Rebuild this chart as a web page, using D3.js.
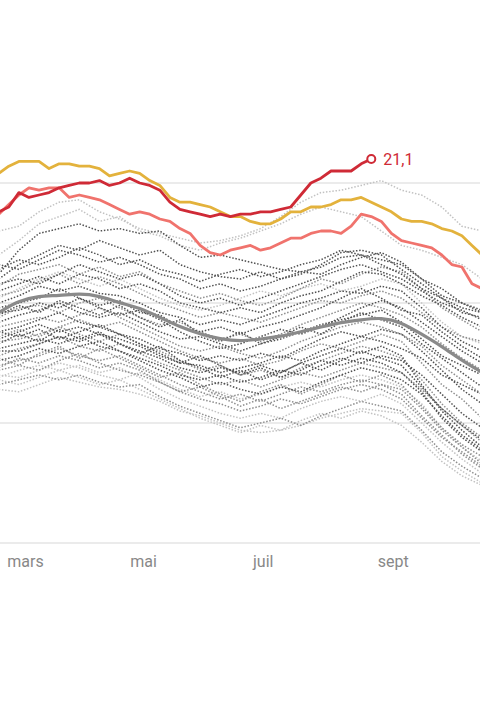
<!DOCTYPE html>
<html lang="fr">
<head>
<meta charset="utf-8">
<script src="https://cdn.jsdelivr.net/npm/d3@7"></script>
<style>
    html, body { margin: 0; padding: 0; background: #fff; }
    svg { display: block; }
</style>
</head>
<body>
<svg id="chart" width="480" height="720"></svg>
<script>
// Température moyenne de surface des océans (°C)
const mois = ['janv', 'févr', 'mars', 'avr', 'mai', 'juin', 'juil', 'août', 'sept', 'oct', 'nov', 'déc'];
const grille = [19.5, 20, 20.5, 21];

// Points tous les 5 jours à partir du 24 février
const valeurs2023 = [20.88, 20.90, 20.96, 20.94, 20.95, 20.96, 20.98, 20.99, 21.00, 21.00,
    21.01, 20.99, 21.00, 21.02, 21.00, 20.99, 20.97, 20.92, 20.89, 20.88,
    20.87, 20.86, 20.87, 20.86, 20.87, 20.87, 20.88, 20.88, 20.89, 20.90,
    20.95, 21.00, 21.02, 21.05, 21.05, 21.05, 21.08, 21.10];
const valeurs2016 = [21.04, 21.07, 21.09, 21.09, 21.09, 21.06, 21.08, 21.08, 21.07, 21.07,
    21.06, 21.03, 21.04, 21.05, 21.04, 21.01, 20.99, 20.94, 20.92, 20.92,
    20.91, 20.90, 20.88, 20.86, 20.86, 20.84, 20.83, 20.83, 20.85, 20.88,
    20.88, 20.90, 20.90, 20.91, 20.93, 20.93, 20.94, 20.92, 20.90, 20.88,
    20.85, 20.84, 20.84, 20.83, 20.81, 20.80, 20.78, 20.74, 20.70, 20.67, 20.65];
const valeurs2020 = [20.87, 20.91, 20.95, 20.98, 20.97, 20.98, 20.98, 20.94, 20.95, 20.94,
    20.93, 20.91, 20.89, 20.87, 20.88, 20.87, 20.85, 20.84, 20.81, 20.79,
    20.74, 20.71, 20.70, 20.72, 20.73, 20.74, 20.72, 20.73, 20.75, 20.77,
    20.77, 20.79, 20.80, 20.80, 20.79, 20.82, 20.87, 20.86, 20.84, 20.79,
    20.76, 20.75, 20.74, 20.73, 20.70, 20.66, 20.65, 20.58, 20.56, 20.56, 20.55];

// Points tous les 10 jours à partir du 24 février
const moyenne = [20.46, 20.51, 20.53, 20.53, 20.54, 20.53, 20.50, 20.48, 20.44, 20.40,
    20.37, 20.35, 20.34, 20.35, 20.36, 20.38, 20.40, 20.42, 20.43, 20.44,
    20.42, 20.37, 20.32, 20.26, 20.21, 20.17];

const annees = [2019, 2017, 2021, 2022, 2018, 2015, 2014, 2010, 2013, 2012,
    2005, 2009, 2006, 2011, 2003, 2007, 1998, 2002, 2001, 2004,
    1997, 2000, 1999, 1995, 1991, 1987, 1990, 1988, 1983, 1989, 1985,
    2008, 1996, 1994, 1993, 1992, 1986];
const anneesClaires = [2019, 2017, 2005, 1990, 1983, 1985, 1986];
const anneesGrises = [2010, 2013, 2003, 2001, 1997, 1987, 1998, 1995, 1988, 1989, 1994, 1992];

const autresAnnees = [
    [20.80, 20.82, 20.88, 20.92, 20.93, 20.88, 20.85, 20.81, 20.79, 20.77, 20.75, 20.76, 20.78, 20.81, 20.86, 20.92, 20.96, 20.97, 20.99, 21.01, 20.97, 20.95, 20.90, 20.82, 20.80, 20.77],
    [20.70, 20.76, 20.83, 20.86, 20.89, 20.84, 20.86, 20.80, 20.78, 20.74, 20.72, 20.75, 20.77, 20.80, 20.83, 20.87, 20.90, 20.88, 20.86, 20.80, 20.74, 20.72, 20.69, 20.66, 20.60, 20.56],
    [20.64, 20.68, 20.66, 20.69, 20.73, 20.70, 20.66, 20.68, 20.64, 20.62, 20.59, 20.62, 20.64, 20.61, 20.63, 20.66, 20.68, 20.72, 20.70, 20.66, 20.62, 20.56, 20.52, 20.48, 20.46, 20.43],
    [20.62, 20.72, 20.79, 20.81, 20.83, 20.80, 20.81, 20.79, 20.80, 20.74, 20.69, 20.70, 20.68, 20.66, 20.64, 20.63, 20.65, 20.69, 20.70, 20.68, 20.66, 20.60, 20.53, 20.50, 20.47, 20.44],
    [20.60, 20.66, 20.70, 20.74, 20.72, 20.76, 20.73, 20.70, 20.72, 20.66, 20.63, 20.61, 20.60, 20.63, 20.60, 20.62, 20.66, 20.71, 20.72, 20.70, 20.64, 20.58, 20.52, 20.46, 20.44, 20.40],
    [20.66, 20.64, 20.68, 20.72, 20.70, 20.67, 20.69, 20.66, 20.62, 20.60, 20.56, 20.58, 20.55, 20.57, 20.60, 20.63, 20.62, 20.66, 20.69, 20.71, 20.67, 20.60, 20.56, 20.50, 20.46, 20.42],
    [20.58, 20.60, 20.58, 20.62, 20.66, 20.63, 20.60, 20.62, 20.58, 20.53, 20.50, 20.52, 20.49, 20.52, 20.55, 20.58, 20.61, 20.64, 20.66, 20.63, 20.60, 20.55, 20.50, 20.47, 20.43, 20.40],
    [20.57, 20.62, 20.64, 20.66, 20.62, 20.65, 20.61, 20.63, 20.58, 20.55, 20.52, 20.54, 20.51, 20.49, 20.52, 20.56, 20.60, 20.58, 20.62, 20.65, 20.63, 20.56, 20.48, 20.43, 20.38, 20.34],
    [20.53, 20.55, 20.59, 20.62, 20.58, 20.61, 20.58, 20.54, 20.50, 20.47, 20.44, 20.46, 20.44, 20.42, 20.45, 20.48, 20.51, 20.50, 20.53, 20.55, 20.52, 20.46, 20.40, 20.36, 20.34, 20.30],
    [20.55, 20.58, 20.61, 20.58, 20.62, 20.60, 20.56, 20.58, 20.55, 20.50, 20.48, 20.46, 20.48, 20.46, 20.50, 20.53, 20.55, 20.59, 20.63, 20.62, 20.58, 20.53, 20.49, 20.44, 20.40, 20.36],
    [20.52, 20.56, 20.60, 20.63, 20.60, 20.57, 20.60, 20.56, 20.52, 20.49, 20.47, 20.49, 20.52, 20.55, 20.53, 20.56, 20.58, 20.55, 20.57, 20.60, 20.58, 20.50, 20.42, 20.36, 20.33, 20.30],
    [20.50, 20.53, 20.57, 20.55, 20.57, 20.54, 20.53, 20.50, 20.46, 20.44, 20.41, 20.43, 20.41, 20.44, 20.47, 20.50, 20.52, 20.55, 20.54, 20.57, 20.55, 20.48, 20.40, 20.34, 20.30, 20.26],
    [20.48, 20.50, 20.52, 20.56, 20.52, 20.49, 20.51, 20.46, 20.45, 20.40, 20.38, 20.40, 20.37, 20.40, 20.42, 20.45, 20.48, 20.52, 20.56, 20.52, 20.47, 20.45, 20.38, 20.32, 20.27, 20.23],
    [20.46, 20.47, 20.50, 20.48, 20.52, 20.48, 20.45, 20.47, 20.43, 20.38, 20.34, 20.31, 20.33, 20.36, 20.39, 20.37, 20.40, 20.44, 20.48, 20.51, 20.48, 20.42, 20.36, 20.30, 20.25, 20.21],
    [20.44, 20.48, 20.49, 20.46, 20.50, 20.52, 20.48, 20.44, 20.41, 20.42, 20.38, 20.35, 20.37, 20.34, 20.37, 20.41, 20.44, 20.47, 20.50, 20.48, 20.45, 20.40, 20.33, 20.27, 20.22, 20.18],
    [20.42, 20.45, 20.47, 20.50, 20.46, 20.44, 20.46, 20.42, 20.38, 20.35, 20.36, 20.33, 20.30, 20.33, 20.35, 20.38, 20.41, 20.43, 20.45, 20.47, 20.42, 20.35, 20.28, 20.24, 20.20, 20.15],
    [20.40, 20.42, 20.44, 20.42, 20.45, 20.48, 20.44, 20.40, 20.36, 20.32, 20.30, 20.32, 20.29, 20.27, 20.30, 20.34, 20.37, 20.40, 20.42, 20.40, 20.37, 20.32, 20.24, 20.18, 20.12, 20.08],
    [20.38, 20.40, 20.43, 20.46, 20.42, 20.40, 20.37, 20.35, 20.31, 20.29, 20.26, 20.28, 20.26, 20.29, 20.27, 20.31, 20.35, 20.38, 20.36, 20.39, 20.37, 20.30, 20.22, 20.14, 20.08, 20.04],
    [20.36, 20.39, 20.36, 20.40, 20.43, 20.40, 20.42, 20.38, 20.34, 20.30, 20.27, 20.25, 20.27, 20.24, 20.26, 20.30, 20.33, 20.31, 20.34, 20.37, 20.34, 20.25, 20.16, 20.10, 20.02, 19.97],
    [20.35, 20.38, 20.41, 20.38, 20.40, 20.37, 20.35, 20.32, 20.28, 20.25, 20.24, 20.21, 20.23, 20.25, 20.28, 20.26, 20.30, 20.33, 20.36, 20.34, 20.31, 20.27, 20.20, 20.16, 20.12, 20.08],
    [20.34, 20.35, 20.37, 20.40, 20.37, 20.34, 20.37, 20.33, 20.30, 20.26, 20.22, 20.24, 20.20, 20.22, 20.19, 20.23, 20.26, 20.29, 20.32, 20.30, 20.27, 20.18, 20.08, 20.00, 19.94, 19.90],
    [20.31, 20.33, 20.35, 20.33, 20.36, 20.32, 20.30, 20.27, 20.24, 20.20, 20.18, 20.20, 20.17, 20.19, 20.22, 20.20, 20.24, 20.27, 20.25, 20.28, 20.26, 20.20, 20.12, 20.04, 19.98, 19.93],
    [20.30, 20.30, 20.33, 20.36, 20.34, 20.37, 20.33, 20.30, 20.27, 20.23, 20.21, 20.23, 20.21, 20.24, 20.21, 20.25, 20.28, 20.31, 20.29, 20.32, 20.28, 20.16, 20.05, 19.97, 19.90, 19.86],
    [20.28, 20.31, 20.33, 20.36, 20.32, 20.30, 20.33, 20.29, 20.25, 20.22, 20.19, 20.16, 20.18, 20.15, 20.18, 20.21, 20.19, 20.22, 20.25, 20.23, 20.21, 20.14, 20.06, 19.99, 19.92, 19.88],
    [20.26, 20.28, 20.31, 20.29, 20.32, 20.34, 20.30, 20.26, 20.22, 20.19, 20.15, 20.17, 20.14, 20.12, 20.15, 20.13, 20.17, 20.20, 20.23, 20.21, 20.18, 20.12, 20.03, 19.95, 19.89, 19.84],
    [20.24, 20.26, 20.28, 20.31, 20.28, 20.26, 20.28, 20.24, 20.20, 20.16, 20.13, 20.10, 20.12, 20.09, 20.12, 20.15, 20.13, 20.16, 20.18, 20.16, 20.14, 20.06, 19.97, 19.90, 19.83, 19.80],
    [20.20, 20.19, 20.22, 20.25, 20.23, 20.20, 20.18, 20.21, 20.18, 20.14, 20.11, 20.13, 20.10, 20.12, 20.15, 20.17, 20.15, 20.18, 20.20, 20.18, 20.15, 20.08, 19.98, 19.90, 19.84, 19.80],
    [20.22, 20.24, 20.22, 20.26, 20.29, 20.25, 20.22, 20.20, 20.17, 20.13, 20.10, 20.08, 20.05, 20.07, 20.10, 20.08, 20.11, 20.14, 20.16, 20.14, 20.10, 20.02, 19.94, 19.88, 19.82, 19.78],
    [20.19, 20.22, 20.24, 20.22, 20.24, 20.21, 20.23, 20.19, 20.14, 20.10, 20.07, 20.04, 20.02, 20.04, 20.02, 20.06, 20.09, 20.11, 20.09, 20.12, 20.08, 20.00, 19.92, 19.85, 19.79, 19.75],
    [20.16, 20.18, 20.20, 20.18, 20.20, 20.17, 20.15, 20.16, 20.11, 20.07, 20.04, 20.01, 19.98, 20.00, 20.02, 19.99, 20.03, 20.06, 20.09, 20.07, 20.05, 19.97, 19.88, 19.82, 19.77, 19.73],
    [20.14, 20.13, 20.16, 20.19, 20.17, 20.15, 20.14, 20.12, 20.09, 20.05, 20.03, 20.00, 19.97, 19.96, 19.97, 19.99, 20.02, 20.04, 20.06, 20.05, 20.04, 19.96, 19.86, 19.80, 19.75, 19.72],
    [20.45, 20.49, 20.46, 20.51, 20.48, 20.45, 20.49, 20.44, 20.40, 20.43, 20.37, 20.34, 20.38, 20.33, 20.36, 20.40, 20.37, 20.42, 20.46, 20.43, 20.40, 20.33, 20.27, 20.21, 20.15, 20.12],
    [20.33, 20.37, 20.34, 20.39, 20.35, 20.38, 20.33, 20.29, 20.32, 20.26, 20.23, 20.19, 20.22, 20.18, 20.21, 20.25, 20.22, 20.26, 20.30, 20.27, 20.24, 20.15, 20.06, 19.99, 19.93, 19.88],
    [20.27, 20.24, 20.29, 20.32, 20.27, 20.31, 20.27, 20.23, 20.19, 20.21, 20.16, 20.12, 20.09, 20.13, 20.16, 20.12, 20.16, 20.20, 20.17, 20.20, 20.16, 20.07, 19.98, 19.91, 19.86, 19.82],
    [20.38, 20.36, 20.39, 20.35, 20.38, 20.41, 20.37, 20.33, 20.29, 20.25, 20.28, 20.24, 20.20, 20.23, 20.19, 20.22, 20.26, 20.24, 20.27, 20.25, 20.21, 20.13, 20.02, 19.94, 19.88, 19.85],
    [20.23, 20.27, 20.25, 20.28, 20.26, 20.23, 20.25, 20.22, 20.17, 20.13, 20.15, 20.11, 20.07, 20.10, 20.06, 20.09, 20.12, 20.15, 20.13, 20.16, 20.12, 20.03, 19.95, 19.87, 19.81, 19.77],
    [20.18, 20.16, 20.19, 20.22, 20.19, 20.16, 20.18, 20.14, 20.10, 20.06, 20.02, 19.99, 19.96, 19.99, 19.97, 20.01, 20.04, 20.02, 20.05, 20.03, 19.99, 19.92, 19.84, 19.78, 19.74, 19.70]
];

// Jours d'échantillonnage
const debut = new Date(2023, 1, 24);
const fin = new Date(2023, 10, 2);
const jours5 = d3.timeDay.range(debut, fin, 5);
const jours10 = d3.timeDay.range(debut, fin, 10);

const largeur = 480;
const svg = d3.select('#chart');

// Le graphique d'origine est plus large que la fenêtre : on n'en voit que la partie centrale
const x = d3.scaleTime()
    .domain([new Date(2023, 0, 1), new Date(2023, 11, 31)])
    .range([-110, 623]);
const y = d3.scaleLinear()
    .domain([19.5, 21])
    .range([543, 183]);

const paires = (jours, valeurs) => valeurs.map((v, i) => [jours[i], v]);
const ligne = d3.line().x(d => x(d[0])).y(d => y(d[1]));
const ligneLisse = d3.line().curve(d3.curveBasis).x(d => x(d[0])).y(d => y(d[1]));

// Grille horizontale
svg.append('g')
    .selectAll('line')
    .data(grille)
    .join('line')
    .attr('x1', x.range()[0])
    .attr('x2', x.range()[1])
    .attr('y1', d => y(d))
    .attr('y2', d => y(d))
    .attr('stroke', '#e4e4e4')
    .attr('stroke-width', 1.5);

// Axe des mois (seulement ceux qui tombent dans la fenêtre)
const moisVisibles = x.ticks(d3.timeMonth.every(2)).filter(d => x(d) >= 0 && x(d) < largeur - 40);
svg.append('g')
    .attr('transform', `translate(0,${y(19.5)})`)
    .call(d3.axisBottom(x)
        .tickValues(moisVisibles)
        .tickFormat(d => mois[d.getMonth()])
        .tickSize(0))
    .call(g => g.select('.domain').remove())
    .call(g => g.selectAll('text')
        .attr('text-anchor', 'start')
        .attr('x', -2)
        .attr('y', 24)
        .attr('dy', null)
        .attr('fill', '#888')
        .style('font-family', 'Roboto, sans-serif')
        .style('font-size', '16px'));

// Les autres années, en pointillés (claires d'abord, foncées par-dessus)
const teinte = (annee) => {
    if (anneesClaires.includes(annee)) return 'claire';
    if (anneesGrises.includes(annee)) return 'grise';
    return 'foncee';
};
const couleurs = { claire: '#c2c2c2', grise: '#8e8e8e', foncee: '#505050' };
const ordre = { claire: 0, grise: 1, foncee: 2 };

const series = annees.map((annee, i) => ({ annee, teinte: teinte(annee), valeurs: autresAnnees[i] }))
    .sort((a, b) => ordre[a.teinte] - ordre[b.teinte]);

svg.append('g')
    .selectAll('path')
    .data(series)
    .join('path')
    .attr('d', d => ligne(paires(jours10, d.valeurs)))
    .attr('fill', 'none')
    .attr('stroke', d => couleurs[d.teinte])
    .attr('stroke-width', 1.5)
    .attr('stroke-dasharray', '1.5 1.7');

// Moyenne
svg.append('path')
    .attr('d', ligneLisse(paires(jours10, moyenne)))
    .attr('fill', 'none')
    .attr('stroke', '#8a8a8a')
    .attr('stroke-width', 3.2);

// Années mises en avant
const miseEnAvant = [
    { valeurs: valeurs2020, couleur: '#f0736d' },
    { valeurs: valeurs2016, couleur: '#e3b23c' },
    { valeurs: valeurs2023, couleur: '#cf2a36' }
];
svg.append('g')
    .selectAll('path')
    .data(miseEnAvant)
    .join('path')
    .attr('d', d => ligne(paires(jours5, d.valeurs)))
    .attr('fill', 'none')
    .attr('stroke', d => d.couleur)
    .attr('stroke-width', 2.8)
    .attr('stroke-linejoin', 'round');

// Dernière valeur de 2023
const dernierJour = jours5[valeurs2023.length - 1];
const derniereValeur = valeurs2023[valeurs2023.length - 1];
svg.append('circle')
    .attr('cx', x(dernierJour))
    .attr('cy', y(derniereValeur))
    .attr('r', 4)
    .attr('fill', '#fff')
    .attr('stroke', '#cf2a36')
    .attr('stroke-width', 2);
svg.append('text')
    .attr('x', x(dernierJour) + 12)
    .attr('y', y(derniereValeur) + 5.5)
    .attr('fill', '#cf2a36')
    .style('font-family', 'Roboto, sans-serif')
    .style('font-size', '16px')
    .text(d3.format('.1f')(derniereValeur).replace('.', ','));
</script>
</body>
</html>
